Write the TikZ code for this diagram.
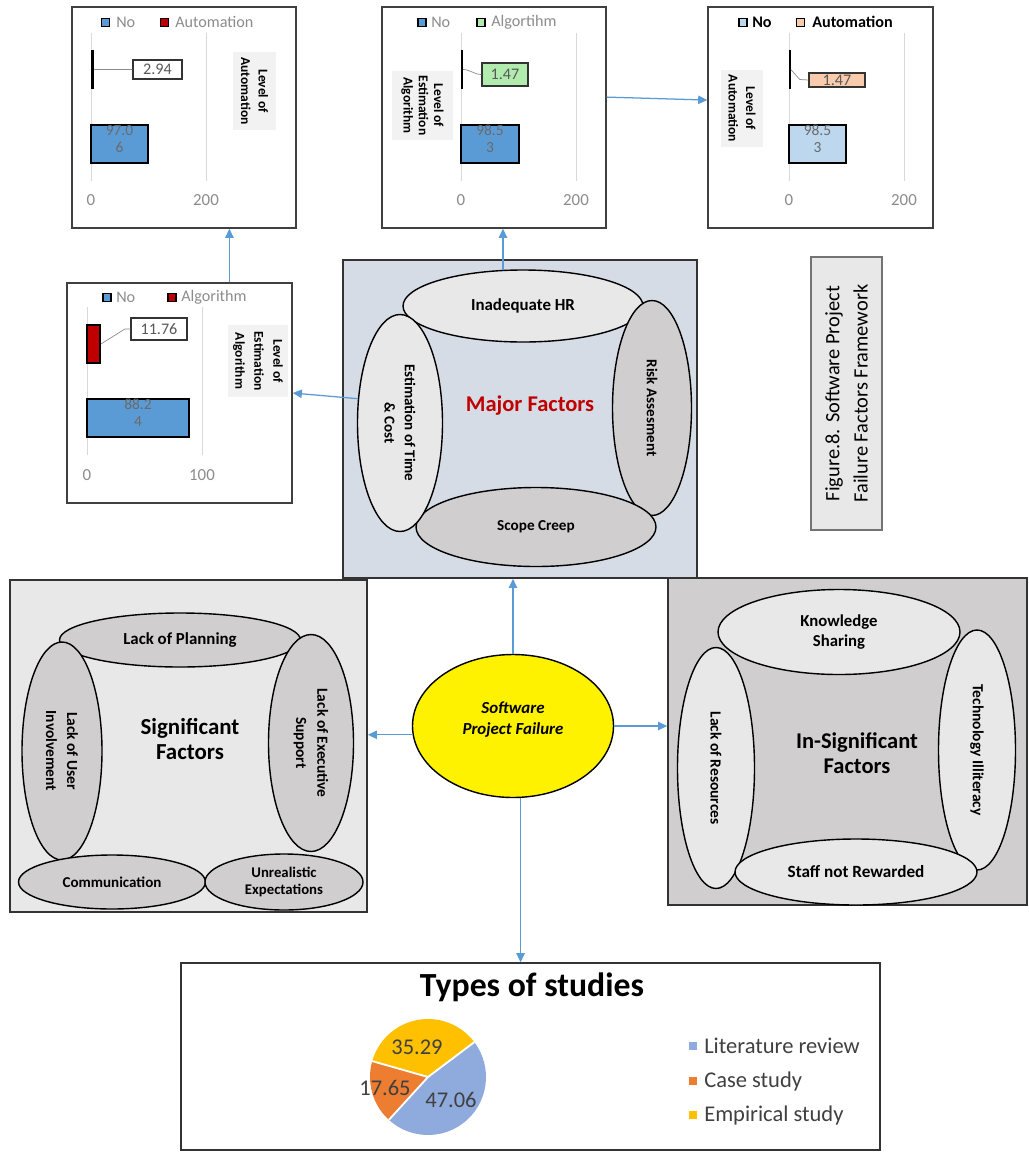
\documentclass[tikz,border=0pt]{standalone}
\usepackage{fontspec}
\setmainfont{Carlito}
\usetikzlibrary{arrows.meta, positioning, fit, shapes.geometric}
\definecolor{linkblue}{HTML}{5B9BD5}
\definecolor{barblue}{HTML}{5B9BD5}
\definecolor{barred}{HTML}{C00000}
\definecolor{paleblue}{HTML}{BDD7EE}
\definecolor{palegreen}{HTML}{B2EBAE}
\definecolor{peach}{HTML}{F8CBAD}
\definecolor{slatefill}{HTML}{D6DCE5}
\definecolor{lightgrey}{HTML}{E9E8E8}
\definecolor{midgrey}{HTML}{D0CECE}
\definecolor{labelgrey}{HTML}{F2F2F2}
\definecolor{axisgrey}{HTML}{8C8C8C}
\definecolor{gridgrey}{HTML}{D9D9D9}
\definecolor{textgrey}{HTML}{595959}
\definecolor{factorred}{HTML}{C00000}
\definecolor{litblue}{HTML}{8FAADC}
\definecolor{caseorange}{HTML}{ED7D31}
\definecolor{empyellow}{HTML}{FFC000}
\newcommand{\pxu}{*0.025cm}
\newcommand{\fsz}[2]{\fontsize{#1}{#2}\selectfont}

\begin{document}
\begin{tikzpicture}[x=0.025cm, y=-0.025cm,
    chartframe/.style={draw=black!75, line width=1pt, fill=white, inner sep=0pt},
    bigbox/.style={draw=black!80, line width=1.2pt, inner sep=0pt},
    factor/.style={ellipse, draw=black, line width=1pt, inner sep=0pt, align=center,
      font=\bfseries\fsz{10.7}{14.5}},
    link/.style={draw=linkblue, line width=0.9pt, -{Triangle[width=6pt,length=6.5pt]}},
    legkey/.style={draw=black, line width=1pt, minimum size=8\pxu, inner sep=0pt},
    legtext/.style={anchor=west, inner sep=0pt, text=axisgrey, font=\fsz{11.5}{13}},
    gridline/.style={draw=gridgrey, line width=0.6pt},
    axislabel/.style={inner sep=0pt, text=axisgrey, font=\fsz{12}{14}},
    barbox/.style={draw=black, line width=1.3pt, inner sep=0pt, align=left,
      text=textgrey!90, font=\fsz{11}{11.5}},
    tickbar/.style={fill=black, inner sep=0pt},
    datalabel/.style={draw=black!80, line width=0.8pt, inner sep=0pt, text=textgrey,
      font=\fsz{11.5}{13}},
    leader/.style={draw=black!45, line width=0.5pt},
    axistitle/.style={fill=labelgrey, rotate=-90, inner sep=0pt, align=center,
      font=\bfseries\fsz{9.6}{12.5}}]

    \fill[white] (0,0) rectangle (1029,1152);
    \useasboundingbox (0,0) rectangle (1029,1152);

    % chart: level of automation (top left)
    \node[chartframe, fit={(72,7) (296,228)}] (chartA) {};
    \node[legkey, fill=barblue] (keyAno) at (105.5,22.5) {};
    \node[legtext] (legAno) at (116,22) {No};
    \node[legkey, fill=barred] (keyAauto) at (164.5,22.5) {};
    \node[legtext] (legAauto) at (175,22) {Automation};
    \draw[gridline] (91,33) -- (91,181);
    \draw[gridline] (206,33) -- (206,181);
    \node[tickbar, fit={(90.5,50) (93.5,89)}] (barAauto) {};
    \node[datalabel, minimum width=49\pxu, minimum height=19\pxu] (valA) at (157.5,69.5) {2.94};
    \draw[leader] (barAauto.east) -- (valA.west);
    \node[barbox, fill=barblue, fit={(91,125) (148,163)}] (barAno) {97.0\\6};
    \node[axislabel] (axA0) at (91,200) {0};
    \node[axislabel] (axA1) at (206,200) {200};
    \node[axistitle, minimum width=78\pxu, minimum height=43\pxu] (titA) at (254.5,91)
      {Level of\\Automation};

    % chart: level of estimation algorithm (top middle)
    \node[chartframe, fit={(382,7) (606,228)}] (chartB) {};
    \node[legkey, fill=barblue] (keyBno) at (422,22.5) {};
    \node[legtext] (legBno) at (431,22) {No};
    \node[legkey, fill=palegreen] (keyBalg) at (481,22.5) {};
    \node[legtext] (legBalg) at (491,22) {Algortihm};
    \draw[gridline] (461,33) -- (461,181);
    \draw[gridline] (576,33) -- (576,181);
    \node[tickbar, fit={(460.5,50) (462.5,89)}] (barBalg) {};
    \node[datalabel, fill=palegreen, minimum width=46\pxu, minimum height=23\pxu] (valB)
      at (505,74.5) {1.47};
    \draw[leader] (barBalg.east) to[out=0, in=180] (valB.west);
    \node[barbox, fill=barblue, fit={(461,125) (519,163)}] (barBno) {98.5\\3};
    \node[axislabel] (axB0) at (461,200) {0};
    \node[axislabel] (axB1) at (576,200) {200};
    \node[axistitle, minimum width=69\pxu, minimum height=61\pxu, font=\bfseries\fsz{9.6}{10.8}]
      (titB) at (422.5,105.5) {Level of\\Estimation\\Algorithm};

    % chart: level of automation (top right)
    \node[chartframe, fit={(708,7) (933,228)}] (chartC) {};
    \node[legkey, fill=paleblue] (keyCno) at (743,22.5) {};
    \node[legtext, text=black, font=\bfseries\fsz{11.5}{13}] (legCno) at (752,22) {No};
    \node[legkey, fill=peach] (keyCauto) at (800.5,22.5) {};
    \node[legtext, text=black, font=\bfseries\fsz{11.5}{13}] (legCauto) at (812,22) {Automation};
    \draw[gridline] (789,33) -- (789,181);
    \draw[gridline] (904,33) -- (904,181);
    \node[tickbar, fit={(788.5,50) (790.5,89)}] (barCauto) {};
    \node[datalabel, fill=peach, minimum width=56\pxu, minimum height=14\pxu] (valC)
      at (837,80) {1.47};
    \draw[leader] (barCauto.east) -- ++(9,10) -- (valC.west);
    \node[barbox, fill=paleblue, fit={(789,125) (846,163)}] (barCno) {98.5\\3};
    \node[axislabel] (axC0) at (789,200) {0};
    \node[axislabel] (axC1) at (904,200) {200};
    \node[axistitle, minimum width=77\pxu, minimum height=42\pxu] (titC) at (742,108.5)
      {Level of\\Automation};

    % chart: level of estimation algorithm (middle left)
    \node[chartframe, fit={(67,283) (292,503)}] (chartD) {};
    \node[legkey, fill=barblue] (keyDno) at (107,297.5) {};
    \node[legtext] (legDno) at (116,297) {No};
    \node[legkey, fill=barred] (keyDalg) at (172,297.5) {};
    \node[legtext] (legDalg) at (181,297) {Algorithm};
    \draw[gridline] (87,307) -- (87,455);
    \draw[gridline] (202,307) -- (202,455);
    \node[barbox, fill=barred, fit={(87,325) (100,363)}] (barDalg) {};
    \node[datalabel, fill=white, minimum width=56\pxu, minimum height=22\pxu] (valD)
      at (159,329) {11.76};
    \draw[leader] (barDalg.east) -- ++(24,-15) -- (valD.west);
    \node[barbox, fill=barblue, fit={(87,399) (189,437)}] (barDno) {88.2\\4};
    \node[axislabel] (axD0) at (87,475) {0};
    \node[axislabel] (axD1) at (202,475) {100};
    \node[axistitle, minimum width=72\pxu, minimum height=60\pxu, font=\bfseries\fsz{9.6}{13.5}]
      (titD) at (258,361) {Level of\\Estimation\\Algorithm};

    % major factors
    \node[bigbox, fill=slatefill, fit={(343,260) (697,578)}] (major) {};
    \node[factor, fill=lightgrey, minimum width=240\pxu, minimum height=72\pxu,
      font=\bfseries\fsz{12}{13}] (hr) at (523,306) {Inadequate HR};
    \node[factor, fill=midgrey, rotate=-90, minimum width=215\pxu, minimum height=79\pxu]
      (risk) at (652,408) {Risk Assesment};
    \node[factor, fill=midgrey, minimum width=240\pxu, minimum height=79\pxu,
      font=\bfseries\fsz{10.8}{13}] (scope) at (536,527) {Scope Creep};
    \node[factor, fill=lightgrey, rotate=-90, minimum width=217\pxu, minimum height=85\pxu]
      (est) at (400,423) {Estimation of Time\\\& Cost};
    \node[font=\bfseries\fsz{16}{18}, text=factorred] (majorlbl) at (530,406) {Major Factors};

    % figure caption
    \node[draw=black!55, line width=0.8pt, fill=lightgrey, rotate=90, inner sep=0pt,
      minimum width=273\pxu, minimum height=71\pxu, align=center, font=\fsz{14.5}{20}]
      (caption) at (846.5,393.5) {Figure.8. Software Project\\Failure Factors Framework};

    % significant factors
    \node[bigbox, fill=lightgrey, fit={(10,580) (367,912)}] (sig) {};
    \node[factor, fill=midgrey, minimum width=241\pxu, minimum height=54\pxu,
      font=\bfseries\fsz{12}{13}] (plan) at (180,640) {Lack of Planning};
    \node[factor, fill=midgrey, rotate=-90, minimum width=218\pxu, minimum height=80\pxu,
      font=\bfseries\fsz{11}{15}] (user) at (62,751) {Lack of User\\Involvement};
    \node[factor, fill=midgrey, rotate=-90, minimum width=217\pxu, minimum height=85\pxu,
      font=\bfseries\fsz{11}{15}] (exec) at (311,743) {Lack of Executive\\Support};
    \node[factor, fill=midgrey, minimum width=187\pxu, minimum height=54\pxu] (comm)
      at (112,882) {Communication};
    \node[factor, fill=midgrey, minimum width=158\pxu, minimum height=56\pxu,
      font=\bfseries\fsz{10.5}{12.6}] (unreal) at (284,882) {Unrealistic\\Expectations};
    \node[align=center, font=\bfseries\fsz{16.3}{17.5}] (siglbl) at (190,739) {Significant\\Factors};

    % in-significant factors
    \node[bigbox, fill=midgrey, fit={(668,578) (1027,905)}] (insig) {};
    \node[factor, fill=lightgrey, minimum width=242\pxu, minimum height=85\pxu,
      font=\bfseries\fsz{11.9}{14}] (know) at (839,632) {Knowledge\\Sharing};
    \node[factor, fill=lightgrey, rotate=-90, minimum width=241\pxu, minimum height=77\pxu,
      font=\bfseries\fsz{11}{13}] (res) at (716,768) {Lack of Resources};
    \node[factor, fill=lightgrey, rotate=-90, minimum width=240\pxu, minimum height=77\pxu,
      font=\bfseries\fsz{11}{13}] (tech) at (977,750) {Technology Illiteracy};
    \node[factor, fill=lightgrey, minimum width=242\pxu, minimum height=66\pxu,
      font=\bfseries\fsz{12.2}{13}] (staff) at (856,872) {Staff not Rewarded};
    \node[align=center, font=\bfseries\fsz{16}{17.8}] (insiglbl) at (857,753)
      {In-Significant\\Factors};

    % centre
    \node[ellipse, draw=black, line width=1pt, fill=yellow, minimum width=201\pxu,
      minimum height=143\pxu, inner sep=0pt] (spf) at (513,726) {};
    \node[align=center, font=\bfseries\itshape\fsz{12}{15}] (spflbl) at (513,719.5)
      {Software\\Project Failure};

    % types of studies
    \node[draw=black!80, line width=1pt, fill=white, inner sep=0pt, fit={(181,963) (880,1150)}] (pie) {};
    \node[font=\bfseries\fsz{24}{28}] (pietitle) at (532,987) {Types of studies};
    \begin{scope}[shift={(428,1077)}, x=0.025cm, y=0.025cm]
      \fill[litblue] (0,0) -- (37:58) arc[start angle=37, end angle=-132.4, radius=58] -- cycle;
      \fill[caseorange] (0,0) -- (-132.4:58) arc[start angle=-132.4, end angle=-195.9, radius=58] -- cycle;
      \fill[empyellow] (0,0) -- (-195.9:58) arc[start angle=-195.9, end angle=-323, radius=58] -- cycle;
      \draw[white, line width=1.3pt] (0,0) -- (37:58) (0,0) -- (-132.4:58) (0,0) -- (-195.9:58);
    \end{scope}
    \node[text=black!75, font=\fsz{16}{18}] (pctemp) at (417,1047) {35.29};
    \node[text=black!75, font=\fsz{16}{18}] (pctcase) at (385,1088) {17.65};
    \node[text=black!75, font=\fsz{16}{18}] (pctlit) at (451,1100) {47.06};
    \node[fill=litblue, minimum size=8\pxu, inner sep=0pt] (keylit) at (693,1046) {};
    \node[legtext, text=black!75, font=\fsz{16}{18}] (leglit) at (704,1046) {Literature review};
    \node[fill=caseorange, minimum size=8\pxu, inner sep=0pt] (keycase) at (693,1081) {};
    \node[legtext, text=black!75, font=\fsz{16}{18}] (legcase) at (704,1081) {Case study};
    \node[fill=empyellow, minimum size=8\pxu, inner sep=0pt] (keyemp) at (693,1115) {};
    \node[legtext, text=black!75, font=\fsz{16}{18}] (legemp) at (704,1115) {Empirical study};

    % connectors
    \draw[link] (hr.119) -- (hr.119 |- chartB.south);
    \draw[link] ([xshift=35.5pt]chartD.north) -- ([xshift=35.5pt]chartD.north |- chartA.south);
    \draw[link] (est.240) -- (chartD.east);
    \draw[link] ([yshift=14.5pt]chartB.east) -- ([yshift=12.4pt]chartC.west);
    \draw[link] (spf.north) -- (spf.north |- major.south);
    \draw[link] (spf.185) -- (spf.185 -| sig.east);
    \draw[link] (spf.east) -- (spf.east -| insig.west);
    \draw[link] (spf.-84) -- (spf.-84 |- pie.north);
\end{tikzpicture}
\end{document}
